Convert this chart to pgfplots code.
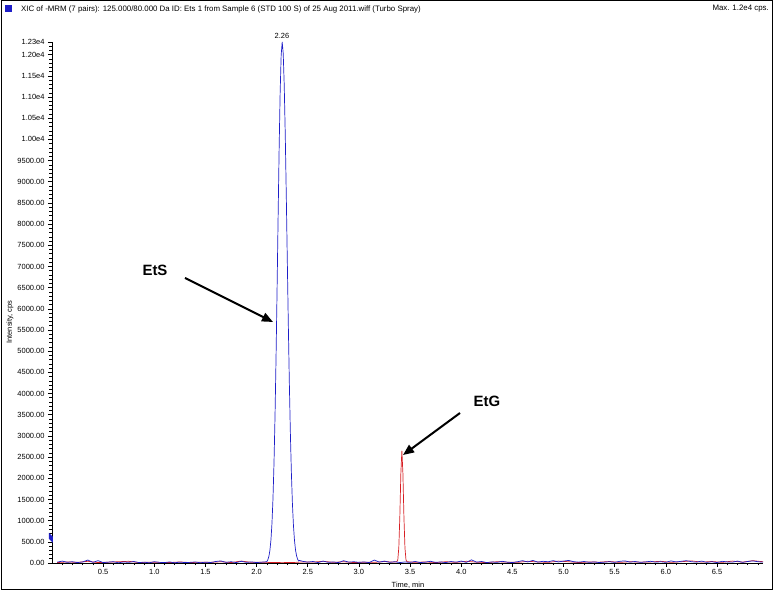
\documentclass[border=0pt]{standalone}
\usepackage{pgfplots}
\pgfplotsset{compat=1.18}
\usepackage{fontspec}
\setmainfont{Liberation Sans}
\usetikzlibrary{arrows.meta}
\definecolor{xicblue}{RGB}{30,30,200}
\definecolor{xicred}{RGB}{215,30,35}
\begin{document}
\begin{tikzpicture}[x=1bp,y=1bp]
\path (-52,-36) rectangle (724,563);
\draw[black,line width=1bp] (-50,-27) rectangle (720,562);
\fill[xicblue] (-47,558) rectangle (-40,551);
\node[anchor=west,inner sep=0pt,font=\fontsize{7.9}{9}\selectfont] at (-31,554) {XIC of -MRM (7 pairs): 125.000/80.000 Da ID: Ets 1 from Sample 6 (STD 100 S) of 25 Aug 2011.wiff (Turbo Spray)};
\node[anchor=east,inner sep=0pt,font=\fontsize{7.9}{9}\selectfont] at (717,554) {Max. 1.2e4 cps.};
\begin{axis}[
  scale only axis, at={(0,0)}, anchor=south west,
  width=711bp, height=521bp,
  xmin=0, xmax=6.95, ymin=0, ymax=12300,
  scaled y ticks=false, scaled x ticks=false,
  axis x line*=bottom, axis y line*=left,
  axis line style={black,line width=0.8bp},
  tick align=outside,
  major tick length=4bp, minor tick length=2.5bp,
  tick style={black,line width=0.6bp},
  xtick={0.5,1.0,...,6.5},
  xticklabels={0.5,1.0,1.5,2.0,2.5,3.0,3.5,4.0,4.5,5.0,5.5,6.0,6.5},
  minor xtick={0.1,0.2,...,6.9},
  ytick={0,500,...,12000,12300},
  yticklabels={0.00,500.00,1000.00,1500.00,2000.00,2500.00,3000.00,3500.00,4000.00,4500.00,5000.00,5500.00,6000.00,6500.00,7000.00,7500.00,8000.00,8500.00,9000.00,9500.00,1.00e4,1.05e4,1.10e4,1.15e4,1.20e4,1.23e4},
  minor ytick={100,200,...,12200},
  /pgf/number format/assume math mode=true,
  ticklabel style={font=\fontsize{7.5}{9}\selectfont},
  xticklabel style={yshift=1bp},
  clip=false,
]
\addplot[xicred,line width=0.7bp] coordinates {
(0.05,10)(0.15,25)(0.25,15)(0.35,40)(0.45,10)(0.55,20)(0.65,30)(0.75,40)(0.85,10)(0.95,20)
(1.05,15)(1.15,10)(1.25,25)(1.35,10)(1.45,20)(1.55,15)(1.65,30)(1.75,10)(1.85,45)(1.95,15)
(2.05,20)(2.15,10)(2.25,15)(2.35,10)(2.45,25)(2.55,20)(2.65,40)(2.75,15)(2.85,30)(2.95,10)
(3.05,20)(3.15,15)(3.25,35)(3.33,20)(3.37,30)(3.38,75)(3.39,360)(3.40,1090)(3.41,2120)(3.42,2650)
(3.43,2120)(3.44,1090)(3.45,360)(3.46,75)(3.47,30)(3.52,20)(3.55,15)(3.65,25)(3.75,10)(3.85,30)
(3.95,15)(4.05,40)(4.15,20)(4.25,10)(4.35,30)(4.45,20)(4.55,15)(4.65,40)(4.75,25)(4.85,15)
(4.95,45)(5.05,30)(5.15,10)(5.25,25)(5.35,20)(5.45,35)(5.55,15)(5.65,30)(5.75,20)(5.85,25)
(5.95,40)(6.05,15)(6.15,30)(6.25,50)(6.35,20)(6.45,35)(6.55,15)(6.65,45)(6.75,20)(6.85,55)(6.95,30)
};
\addplot[xicblue,line width=0.7bp] coordinates {
(0.05,20)(0.10,45)(0.15,15)(0.20,30)(0.25,10)(0.30,25)(0.35,70)(0.40,15)(0.45,55)(0.50,10)
(0.55,20)(0.60,30)(0.65,5)(0.70,25)(0.75,15)(0.80,35)(0.85,10)(0.90,20)(0.95,5)(1.00,30)
(1.05,15)(1.10,10)(1.15,25)(1.20,5)(1.25,20)(1.30,10)(1.35,15)(1.40,25)(1.45,5)(1.50,20)
(1.55,10)(1.60,35)(1.65,50)(1.70,15)(1.75,30)(1.80,10)(1.85,40)(1.90,15)(1.95,25)(2.00,10)
(2.05,20)(2.10,30)(2.11,78)(2.12,157)(2.13,299)(2.14,540)(2.15,930)(2.16,1518)(2.17,2355)(2.18,3470)
(2.19,4853)(2.20,6449)(2.21,8136)(2.22,9749)(2.23,11092)(2.24,11986)(2.25,12300)(2.26,12036)(2.27,11278)(2.28,10118)
(2.29,8692)(2.30,7150)(2.31,5631)(2.32,4247)(2.33,3068)(2.34,2121)(2.35,1404)(2.36,891)(2.37,540)(2.38,314)
(2.39,175)(2.40,93)(2.41,48)(2.42,60)(2.45,40)(2.50,20)(2.55,35)(2.60,10)(2.65,45)(2.70,15)
(2.75,25)(2.80,10)(2.85,55)(2.90,20)(2.95,30)(3.00,15)(3.05,25)(3.10,10)(3.15,70)(3.20,20)
(3.25,45)(3.30,15)(3.35,30)(3.40,10)(3.45,25)(3.50,15)(3.55,35)(3.60,10)(3.65,20)(3.70,40)
(3.75,15)(3.80,25)(3.85,10)(3.90,35)(3.95,20)(4.00,45)(4.05,15)(4.10,75)(4.15,20)(4.20,35)
(4.25,10)(4.30,25)(4.35,15)(4.40,40)(4.45,20)(4.50,10)(4.55,30)(4.60,55)(4.65,25)(4.70,60)
(4.75,20)(4.80,40)(4.85,30)(4.90,55)(4.95,25)(5.00,45)(5.05,60)(5.10,30)(5.15,20)(5.20,35)
(5.25,15)(5.30,25)(5.35,10)(5.40,20)(5.45,30)(5.50,15)(5.55,40)(5.60,50)(5.65,20)(5.70,35)
(5.75,15)(5.80,25)(5.85,40)(5.90,20)(5.95,30)(6.00,15)(6.05,50)(6.10,25)(6.15,40)(6.20,55)
(6.25,30)(6.30,20)(6.35,45)(6.40,15)(6.45,30)(6.50,10)(6.55,40)(6.60,25)(6.65,20)(6.70,45)
(6.75,15)(6.80,35)(6.85,50)(6.90,30)(6.95,20)
};
\end{axis}
\fill[xicblue] (-3,30) -- (1,26) -- (1,20) -- (-3,24) -- cycle;
\node[font=\fontsize{7.5}{9}\selectfont,inner sep=0pt] at (230,527) {2.26};
\node[rotate=90,font=\fontsize{7.5}{9}\selectfont,inner sep=0pt] at (-42,241) {Intensity, cps};
\node[font=\fontsize{7.5}{9}\selectfont,inner sep=0pt] at (356,-22) {Time, min};
\node[font=\fontsize{15}{18}\selectfont\bfseries,inner sep=0pt] at (103,293) {EtS};
\node[font=\fontsize{15}{18}\selectfont\bfseries,inner sep=0pt] at (435,162) {EtG};
\draw[line width=2bp,-{Triangle[length=11bp,width=9bp]}] (133,285) -- (221,241);
\draw[line width=2bp,-{Triangle[length=11bp,width=9bp]}] (408,150) -- (351,108);
\end{tikzpicture}
\end{document}
